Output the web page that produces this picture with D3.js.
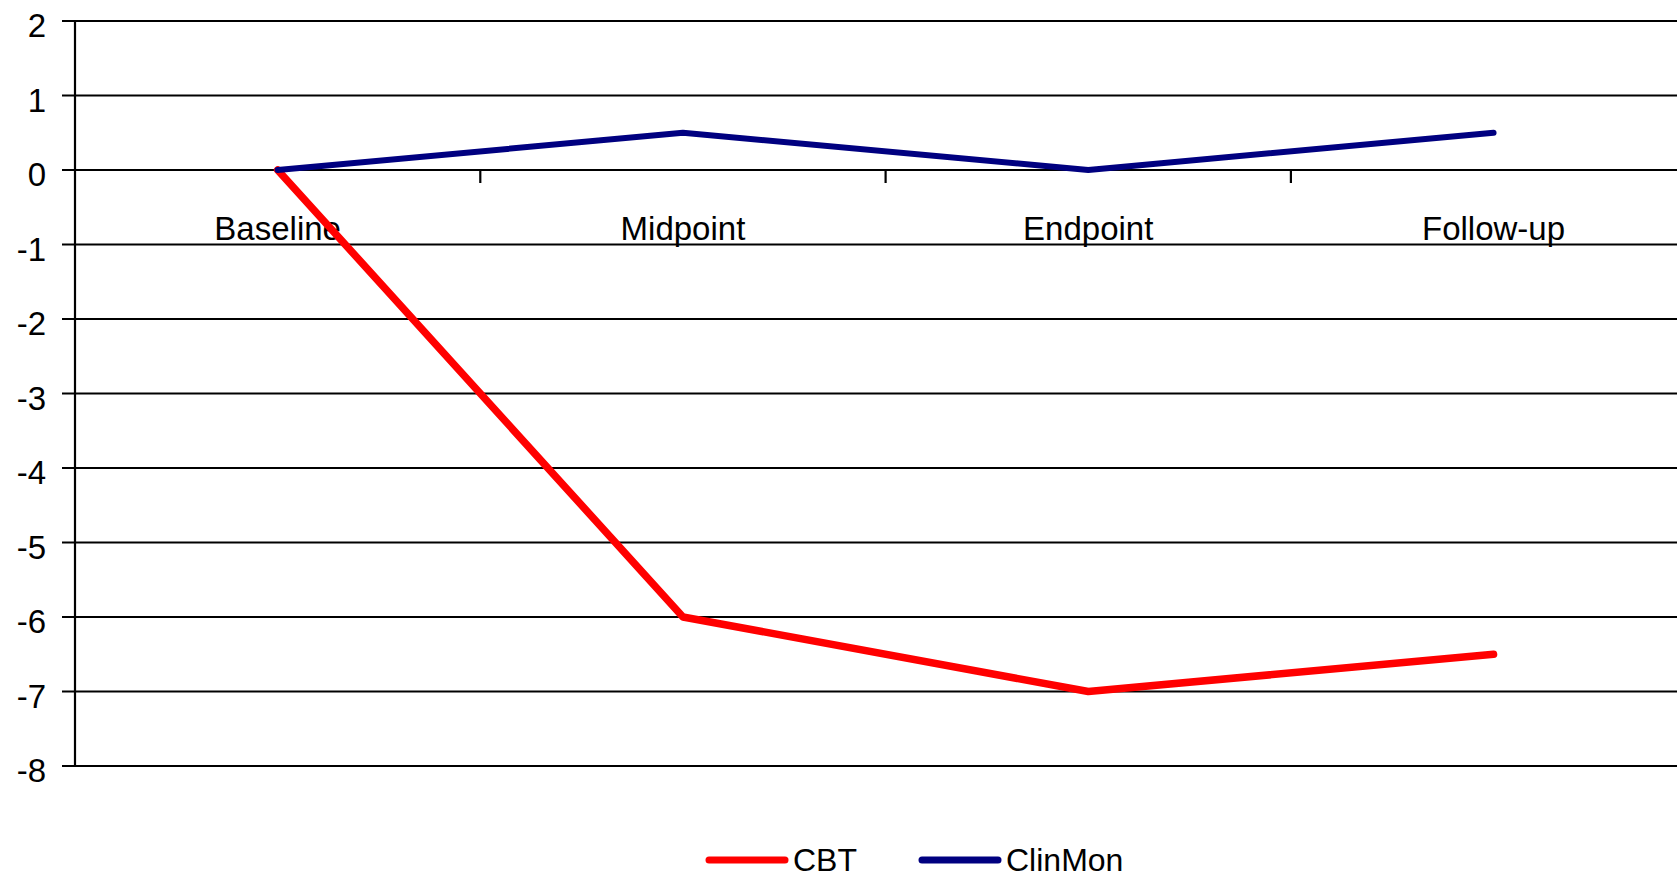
<!DOCTYPE html>
<html>
<head>
<meta charset="utf-8">
<script src="https://cdn.jsdelivr.net/npm/d3@7"></script>
<style>
  html, body { margin: 0; padding: 0; background: #fff; }
  svg { display: block; }
  text { font-family: "Liberation Sans", Arial, sans-serif; fill: #000; }
</style>
</head>
<body>
<svg id="chart" width="1677" height="879"></svg>
<script>
// Time points along the category axis
const categories = ["Baseline", "Midpoint", "Endpoint", "Follow-up"];
// Change from baseline for each group
const cbtValues = [0, -6, -7, -6.5];
const clinMonValues = [0, 0.5, 0, 0.5];
// Value axis ticks
const yTicks = [2, 1, 0, -1, -2, -3, -4, -5, -6, -7, -8];

const series = [
  { name: "CBT", values: cbtValues, color: "#FF0000", width: 7.5 },
  { name: "ClinMon", values: clinMonValues, color: "#000080", width: 6 }
];

(function draw() {
  const W = 1677;
  const plotLeft = 75, plotTop = 21, plotBottom = 766;
  const bandW = 405.3;
  const svg = d3.select("#chart");

  const x = d3.scaleBand()
    .domain(categories)
    .range([plotLeft, plotLeft + bandW * categories.length])
    .paddingInner(0).paddingOuter(0);

  const y = d3.scaleLinear().domain([-8, 2]).range([plotBottom, plotTop]);

  // Horizontal gridlines with left tick marks
  const yAxis = svg.append("g");
  yAxis.selectAll("line.grid")
    .data(yTicks)
    .join("line")
    .attr("class", "grid")
    .attr("x1", plotLeft - 13).attr("x2", W)
    .attr("y1", d => y(d)).attr("y2", d => y(d))
    .attr("stroke", "#000").attr("stroke-width", 2);

  yAxis.selectAll("text")
    .data(yTicks)
    .join("text")
    .attr("x", 46)
    .attr("y", d => y(d) + 16)
    .attr("text-anchor", "end")
    .attr("font-size", 33)
    .text(d => d);

  // Vertical value axis
  svg.append("line")
    .attr("x1", plotLeft).attr("x2", plotLeft)
    .attr("y1", plotTop).attr("y2", plotBottom)
    .attr("stroke", "#000").attr("stroke-width", 2.2);

  // Category axis crosses at zero: tick marks between categories
  const boundaries = categories.slice(1).map(c => x(c));
  svg.selectAll("line.xtick")
    .data(boundaries)
    .join("line")
    .attr("class", "xtick")
    .attr("x1", d => d).attr("x2", d => d)
    .attr("y1", y(0)).attr("y2", y(0) + 13)
    .attr("stroke", "#000").attr("stroke-width", 2.2);

  svg.selectAll("text.xlabel")
    .data(categories)
    .join("text")
    .attr("class", "xlabel")
    .attr("x", d => x(d) + x.bandwidth() / 2)
    .attr("y", y(0) + 70)
    .attr("text-anchor", "middle")
    .attr("font-size", 33)
    .text(d => d);

  // Series lines
  const line = d3.line()
    .x((d, i) => x(categories[i]) + x.bandwidth() / 2)
    .y(d => y(d));

  svg.selectAll("path.series")
    .data(series)
    .join("path")
    .attr("class", "series")
    .attr("d", d => line(d.values))
    .attr("fill", "none")
    .attr("stroke", d => d.color)
    .attr("stroke-width", d => d.width)
    .attr("stroke-linecap", "round")
    .attr("stroke-linejoin", "round");

  // Legend
  const legendItems = [
    { s: series[0], x0: 709 },
    { s: series[1], x0: 922 }
  ];
  const lg = svg.append("g");
  legendItems.forEach(it => {
    lg.append("line")
      .attr("x1", it.x0).attr("x2", it.x0 + 76)
      .attr("y1", 860).attr("y2", 860)
      .attr("stroke", it.s.color).attr("stroke-width", 7)
      .attr("stroke-linecap", "round");
    lg.append("text")
      .attr("x", it.x0 + 84).attr("y", 871)
      .attr("font-size", 32)
      .text(it.s.name);
  });
})();
</script>
</body>
</html>
